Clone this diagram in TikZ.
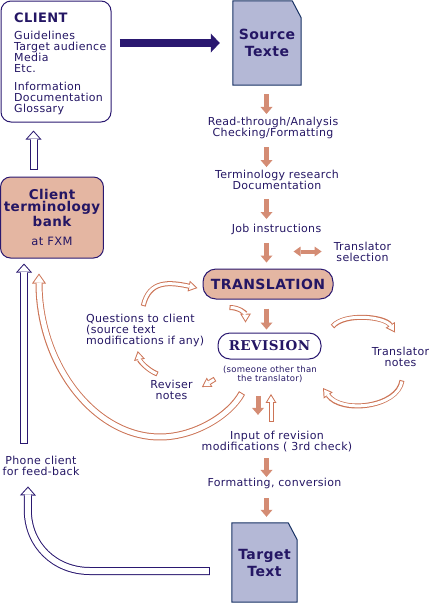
\documentclass[tikz,border=0pt]{standalone}
\usepackage{fontspec}
\setmainfont{DejaVu Sans}[LetterSpace=3]
\newfontfamily\revfont{DejaVu Serif}[LetterSpace=3]
\usetikzlibrary{arrows.meta,backgrounds,positioning}
\definecolor{navy}{RGB}{42,24,112}
\definecolor{ink}{RGB}{36,22,100}
\definecolor{salmon}{RGB}{212,140,116}
\definecolor{rust}{RGB}{204,116,86}
\definecolor{peach}{RGB}{228,182,162}
\definecolor{lilac}{RGB}{180,184,214}
\definecolor{docline}{RGB}{24,50,100}
\tikzset{txt/.style={inner sep=0pt,align=center,text=ink,font=\fontsize{11}{11}\selectfont}}
\tikzset{pill/.style={draw=navy,line width=1pt,rounded corners=13pt,text=ink}}
\tikzset{docu/.style={minimum width=68pt,minimum height=84pt,align=center,text=ink,font=\bfseries\fontsize{14}{17}\selectfont}}
\tikzset{doc/.style={fill=lilac,draw=docline,line width=1pt}}
\tikzset{barr/.style={draw=salmon,line width=5pt,-{Triangle[width=12pt,length=7pt,line width=0pt]}}}
\tikzset{barr2/.style={draw=salmon,line width=4pt,{Triangle[width=10pt,length=7pt,line width=0pt]}-{Triangle[width=10pt,length=7pt,line width=0pt]}}}
\tikzset{bigarr/.style={draw=navy,line width=8pt,-{Triangle[width=19pt,length=9pt,line width=0pt]}}}
\tikzset{hnavy/.style={draw=navy,line width=8pt,-{Triangle[width=16pt,length=9pt,line width=0pt]},
  postaction={draw=white,line width=6pt,shorten <=1pt,shorten >=1.5pt,-{Triangle[width=11.6pt,length=6.5pt,line width=0pt]}}}}
\tikzset{hbr/.style={draw=rust,line width=5pt,-{Triangle[width=11pt,length=9pt,line width=0pt]},
  postaction={draw=white,line width=3pt,shorten <=1pt,shorten >=1.9pt,-{Triangle[width=7.5pt,length=6.1pt,line width=0pt]}}}}
\tikzset{hbig/.style={draw=rust,line width=7pt,-{Triangle[width=14pt,length=10pt,line width=0pt]},
  postaction={draw=white,line width=5pt,shorten <=1pt,shorten >=1.7pt,-{Triangle[width=10.2pt,length=7.3pt,line width=0pt]}}}}

\begin{document}
\begin{tikzpicture}[x=1pt,y=-1pt]
    \path[use as bounding box] (0,0) rectangle (430,603);

    % client side
    \node[draw=navy,line width=1pt,rounded corners=10pt,minimum width=110pt,minimum height=121pt] (client) at (56,61.5) {};
    \node[txt,anchor=north west,align=left,font=\fontsize{11}{10.6}\selectfont] (cltext) at (14,13) {{\bfseries\fontsize{13}{14}\selectfont CLIENT}\\[6pt]Guidelines\\Target audience\\Media\\Etc.\\[8pt]Information\\Documentation\\Glossary};
    \node[draw=navy,line width=1pt,fill=peach,rounded corners=10pt,minimum width=102pt,minimum height=81pt,align=center,text=ink,font=\bfseries\fontsize{13.5}{12.5}\selectfont] (bank) at (52,217.5) {Client\\terminology\\bank\\[7pt]{\mdseries\fontsize{11.5}{12}\selectfont at FXM}};
    \node[txt] (phone) at (41,465.5) {Phone client\\for feed-back};

    % documents
    \node[docu] (src) at (267,43) {Source\\Texte};
    \node[docu,minimum width=65pt,minimum height=79pt] (tgt) at (264.5,562.5) {Target\\Text};
    \begin{scope}[on background layer]
        \filldraw[doc] (src.south west) -- (src.north west) -- ([xshift=-9pt]src.north east) -- ([yshift=-17pt]src.north east) -- (src.south east) -- cycle;
        \filldraw[doc] (tgt.south west) -- (tgt.north west) -- ([xshift=-9pt]tgt.north east) -- ([yshift=-17pt]tgt.north east) -- (tgt.south east) -- cycle;
    \end{scope}

    % steps
    \node[txt] (rt) at (273,128) {Read-through/Analysis\\Checking/Formatting};
    \node[txt] (tr) at (277,180) {Terminology research\\Documentation};
    \node[txt] (job) at (276.5,229.5) {Job instructions};
    \node[txt] (tsel) at (362.5,251.5) {Translator\\selection};
    \node[pill,fill=peach,minimum width=130pt,minimum height=30pt,font=\bfseries\fontsize{14}{14}\selectfont] (trans) at (268,284) {TRANSLATION};
    \node[pill,minimum width=103pt,minimum height=26pt,rounded corners=12pt,font=\revfont\bfseries\fontsize{13.5}{13.5}\selectfont] (rev) at (269.5,346) {REVISION};
    \node[txt,font=\fontsize{8.5}{9}\selectfont] (who) at (270,374.5) {(someone other than\\the translator)};
    \node[txt] (tnotes) at (400.5,356.5) {Translator\\notes};
    \node[txt,anchor=west,align=left] (ques) at (86,330.5) {Questions to client\\(source text\\modifications if any)};
    \node[txt] (rnotes) at (171.5,390) {Reviser\\notes};
    \node[txt] (input) at (277,441.5) {Input of revision\\modifications ( 3rd check)};
    \node[txt] (fmt) at (274.5,483.5) {Formatting, conversion};

    \coordinate (axis) at (266.5,0);
    \coordinate (axis2) at (258,0);
    \coordinate (axis3) at (271,0);

    % main flow
    \draw[bigarr] ([shift={(8,-18.5)}]client.east) -- ([shift={(-13,0)}]src.west);
    \draw[barr] ([yshift=-9pt]src.south -| axis) -- ([yshift=3pt]rt.north -| axis);
    \draw[barr] ([yshift=-8pt]rt.south -| axis) -- ([yshift=3pt]tr.north -| axis);
    \draw[barr] ([yshift=-9pt]tr.south -| axis) -- ([yshift=5pt]job.north -| axis);
    \draw[barr] ([yshift=-8pt]job.south -| axis) -- ([yshift=6pt]trans.north -| axis);
    \draw[barr2] ([xshift=-40pt]tsel.west) -- ([xshift=-12pt]tsel.west);
    \draw[barr] ([yshift=-9pt]trans.south -| axis) -- ([yshift=3pt]rev.north -| axis);
    \draw[barr] ([yshift=-13pt]who.south -| axis2) -- ([yshift=16pt]input.north -| axis2);
    \draw[hbr] ([yshift=9pt]input.north -| axis3) -- ([yshift=-11pt]who.south -| axis3);
    \draw[barr] ([yshift=-6pt]input.south -| axis) -- ([yshift=1pt]fmt.north -| axis);
    \draw[barr] ([yshift=-9pt]fmt.south -| axis) -- ([yshift=6pt]tgt.north -| axis);

    % loops round the revision
    \draw[hbr] ([shift={(-2,-8)}]ques.north) .. controls +(6,-26) and +(-28,-6) .. ([shift={(-5,4)}]trans.west);
    \draw[hbr] ([shift={(27,8)}]trans.south west) .. controls +(10,0) and +(0,-9) .. ([shift={(28,-10)}]rev.north west);
    \draw[hbr] ([shift={(-14,-6)}]rnotes.north) .. controls +(-10,-4) and +(2,10) .. ([shift={(-7.5,4)}]ques.south);
    \draw[hbr] ([shift={(-8,4.5)}]who.west) -- ([shift={(9,-3)}]rnotes.east);
    \draw[hbr] ([shift={(11,-6)}]rev.north east) .. controls +(12,-14) and +(-10,-16) .. ([shift={(-5.5,-14)}]tnotes.north);
    \draw[hbr] ([shift={(1.5,14)}]tnotes.south) .. controls +(-4,27) and +(18,26) .. ([shift={(6,13.5)}]who.east);
    \draw[hbig] ([shift={(-28,10)}]who.south) .. controls +(-12,22) and +(35,0) .. ++(-82,44) .. controls +(-66,0) and +(0,90) .. ([shift={(-13,15)}]bank.south);

    % back to the client
    \draw[hnavy] ([shift={(-18.5,-7)}]bank.north) -- ([shift={(-22.5,8)}]client.south);
    \draw[hnavy] ([shift={(-17,-12)}]phone.north) -- ([shift={(-28,5)}]bank.south);
    \draw[hnavy] ([shift={(-22,8.5)}]tgt.west) -- ++(-120,0) .. controls +(-35,0) and +(0,35) .. ++(-62,-61) -- ([shift={(-13,11)}]phone.south);
\end{tikzpicture}
\end{document}
